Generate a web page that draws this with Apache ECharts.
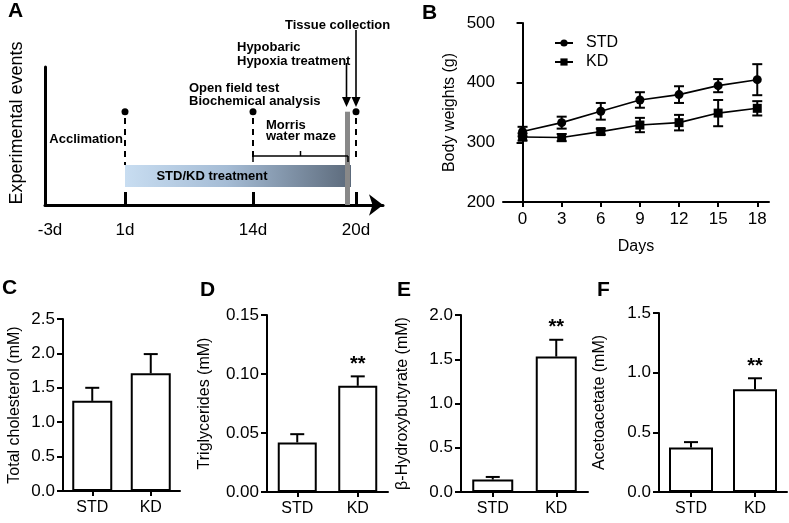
<!DOCTYPE html>
<html><head><meta charset="utf-8">
<script src="https://cdn.jsdelivr.net/npm/echarts@6/dist/echarts.min.js"></script>
<style>html,body{margin:0;padding:0;background:#fff}#c{width:789px;height:523px}</style>
</head><body><div id="c"></div>
<script>
const FONT = 'Arial, "Liberation Sans", Helvetica, sans-serif';

// ---------- Panel A: experimental timeline ----------
const timelineLabels = ['-3d', '1d', '14d', '20d'];
const eventTexts = {
  acclimation: 'Acclimation',
  treatment: 'STD/KD treatment',
  openField: 'Open field test',
  biochem: 'Biochemical analysis',
  morris1: 'Morris',
  morris2: 'water maze',
  hypo1: 'Hypobaric',
  hypo2: 'Hypoxia treatment',
  tissue: 'Tissue collection'
};

// ---------- Panel B: body weights ----------
const days = [0, 3, 6, 9, 12, 15, 18];
const stdWeight = [318, 333, 352, 371, 380, 395, 405];
const stdWeightErr = [8, 10, 14, 13, 14, 11, 26];
const kdWeight = [309, 308, 318, 329, 333, 349, 357];
const kdWeightErr = [6, 6, 5, 12, 13, 22, 12];

// ---------- Panels C-F ----------
const groups = ['STD', 'KD'];
const cholesterol = [1.31, 1.71];
const cholesterolErr = [0.19, 0.28];
const triglycerides = [0.042, 0.090];
const triglyceridesErr = [0.007, 0.008];
const bhb = [0.14, 1.53];
const bhbErr = [0.03, 0.19];
const acetoacetate = [0.373, 0.861];
const acetoacetateErr = [0.045, 0.092];
const sigC = ['', ''];
const sigD = ['', '**'];
const sigE = ['', '**'];
const sigF = ['', '**'];

// ---------- schematic layout for panel A (axis units, 10 px each) ----------
const LA = {
  tickAt: [0.5, 8.0, 20.8, 31.1],
  markAt: [8.0, 20.8, 31.1],
  dashBottom: [4.0, 4.3, 4.5],
  dotY: 9.33, dashTop: 8.7,
  bar: {x0: 8.0, x1: 30.6, y0: 1.8, y1: 4.0},
  hypoxia: {x0: 30.0, x1: 30.5, top: 9.33},
  arrows: [{x: 30.15, from: 14.2, to: 9.8}, {x: 31.1, from: 17.5, to: 9.8}],
  brace: {x0: 20.8, x1: 30.3, y: 4.9, end: 4.3, notch: 5.4},
  texts: [
    ['tissue', 24.0, 18.0, 'left'],
    ['hypo1', 19.2, 15.8, 'left'],
    ['hypo2', 19.2, 14.4, 'left'],
    ['openField', 14.4, 11.7, 'left'],
    ['biochem', 14.4, 10.4, 'left'],
    ['morris1', 22.1, 8.0, 'left'],
    ['morris2', 22.1, 6.9, 'left'],
    ['acclimation', 7.8, 6.6, 'right'],
    ['treatment', 16.7, 2.9, 'center']
  ]
};

function txt(text, p, align, font) {
  return {type: 'text', style: {text: text, x: p[0], y: p[1], textAlign: align, align: align,
    textVerticalAlign: 'middle', verticalAlign: 'middle', font: font, fill: '#000'}};
}
function seg(a, b, w, dash) {
  return {type: 'line', shape: {x1: a[0], y1: a[1], x2: b[0], y2: b[1]},
    style: {stroke: '#000', lineWidth: w, lineDash: dash || null}};
}

function renderTimeline(params, api) {
  const c = (x, y) => api.coord([x, y]);
  const ch = [];
  LA.markAt.forEach((x, i) => {
    ch.push(seg(c(x, LA.dashTop), c(x, LA.dashBottom[i]), 2, [6, 5]));
    const d = c(x, LA.dotY);
    ch.push({type: 'circle', shape: {cx: d[0], cy: d[1], r: 3.5}, style: {fill: '#000'}});
  });
  const p0 = c(LA.bar.x0, LA.bar.y1), p1 = c(LA.bar.x1, LA.bar.y0);
  ch.push({type: 'rect', shape: {x: p0[0], y: p0[1], width: p1[0] - p0[0], height: p1[1] - p0[1]},
    style: {fill: {type: 'linear', x: 0, y: 0, x2: 1, y2: 0, colorStops: [
      {offset: 0, color: '#c8ddf1'}, {offset: 0.45, color: '#a5bcd5'}, {offset: 1, color: '#5c6a7b'}]}}});
  const h0 = c(LA.hypoxia.x0, LA.hypoxia.top), h1 = c(LA.hypoxia.x1, 0);
  ch.push({type: 'rect', shape: {x: h0[0], y: h0[1], width: h1[0] - h0[0], height: h1[1] - h0[1]},
    style: {fill: '#888888'}});
  LA.arrows.forEach(a => {
    const s = c(a.x, a.from), e = c(a.x, a.to);
    ch.push(seg(s, [e[0], e[1] - 8], 1.6));
    ch.push({type: 'polygon', shape: {points: [[e[0] - 4.5, e[1] - 10], [e[0] + 4.5, e[1] - 10], [e[0], e[1]]]},
      style: {fill: '#000'}});
  });
  const b = LA.brace;
  const bl = c(b.x0, b.y), br = c(b.x1, b.y), bm = c((b.x0 + b.x1) / 2, b.y);
  ch.push(seg(bl, br, 1.5));
  ch.push(seg(bl, c(b.x0, b.end), 1.5));
  ch.push(seg(br, c(b.x1, b.end), 1.5));
  ch.push(seg(bm, c((b.x0 + b.x1) / 2, b.notch), 1.5));
  LA.texts.forEach(t => ch.push(txt(eventTexts[t[0]], c(t[1], t[2]), t[3], 'bold 13px ' + FONT)));
  return {type: 'group', children: ch};
}

function renderErrBoth(params, api) {
  const x = api.value(0), y = api.value(1), e = api.value(2);
  const hi = api.coord([x, y + e]), lo = api.coord([x, y - e]);
  const w = 5;
  return {type: 'group', children: [
    seg(hi, lo, 2),
    seg([hi[0] - w, hi[1]], [hi[0] + w, hi[1]], 2),
    seg([lo[0] - w, lo[1]], [lo[0] + w, lo[1]], 2)
  ]};
}

function makeErrUp(sig) {
  return function (params, api) {
    const x = api.value(0), y = api.value(1), e = api.value(2);
    const base = api.coord([x, y]), hi = api.coord([x, y + e]);
    const w = 7;
    const ch = [seg(base, hi, 2), seg([hi[0] - w, hi[1]], [hi[0] + w, hi[1]], 2)];
    const s = sig[params.dataIndex];
    if (s) ch.push({type: 'text', style: {text: s, x: hi[0], y: hi[1] - 12, textAlign: 'center', align: 'center',
      textVerticalAlign: 'middle', verticalAlign: 'middle', font: 'bold 20px ' + FONT, fill: '#000'}});
    return {type: 'group', children: ch};
  };
}

const axisBlack = w => ({show: true, lineStyle: {color: '#000', width: w}});

const grids = [
  {left: 45, top: 67, width: 338, height: 138},
  {left: 503, top: 23, width: 266, height: 179},
  {left: 63, top: 319, width: 117, height: 172},
  {left: 267, top: 315, width: 121, height: 177},
  {left: 461, top: 315, width: 127, height: 177},
  {left: 659, top: 313, width: 128, height: 179}
];

const barPanels = [
  {vals: cholesterol, err: cholesterolErr, sig: sigC, max: 2.5, interval: 0.5, dec: 1, name: 'Total cholesterol (mM)', gap: 40, bw: 40},
  {vals: triglycerides, err: triglyceridesErr, sig: sigD, max: 0.15, interval: 0.05, dec: 2, name: 'Triglycerides (mM)', gap: 54, bw: 39},
  {vals: bhb, err: bhbErr, sig: sigE, max: 2.0, interval: 0.5, dec: 1, name: '\u03b2-Hydroxybutyrate (mM)', gap: 50, bw: 41},
  {vals: acetoacetate, err: acetoacetateErr, sig: sigF, max: 1.5, interval: 0.5, dec: 1, name: 'Acetoacetate (mM)', gap: 51, bw: 44}
];

const xAxes = [
  {gridIndex: 0, type: 'value', min: 0, max: 33.8,
    axisLine: {show: true, lineStyle: {color: '#000', width: 3}, symbol: ['none', 'arrow'], symbolSize: [16, 14]},
    axisTick: {show: true, inside: true, length: 13, customValues: LA.markAt, lineStyle: {color: '#000', width: 3}},
    axisLabel: {customValues: LA.tickAt, formatter: v => timelineLabels[LA.tickAt.indexOf(v)], color: '#000', fontSize: 17, fontFamily: FONT, margin: 17},
    splitLine: {show: false}},
  {gridIndex: 1, type: 'value', min: -1.5, max: 18.9,
    axisLine: axisBlack(2),
    axisTick: {show: true, length: 5, customValues: days, lineStyle: {color: '#000', width: 2}},
    axisLabel: {customValues: days, color: '#000', fontSize: 17, fontFamily: FONT, margin: 9},
    splitLine: {show: false},
    name: 'Days', nameLocation: 'middle', nameGap: 37, nameTextStyle: {color: '#000', fontSize: 16, fontFamily: FONT}}
];
const yAxes = [
  {gridIndex: 0, type: 'value', min: 0, max: 13.8, axisLine: {show: true, lineStyle: {color: '#000', width: 3}},
    axisTick: {show: false}, axisLabel: {show: false}, splitLine: {show: false},
    name: 'Experimental events', nameLocation: 'middle', nameGap: 19,
    nameTextStyle: {color: '#000', fontSize: 18, fontFamily: FONT, padding: [0, 0, 0, 26]}},
  {gridIndex: 1, type: 'value', min: 200, max: 500, interval: 100, axisLine: axisBlack(2),
    axisTick: {show: true, length: 6, lineStyle: {color: '#000', width: 2}},
    axisLabel: {color: '#000', fontSize: 17, fontFamily: FONT, margin: 8}, splitLine: {show: false},
    name: 'Body weights (g)', nameLocation: 'middle', nameGap: 45, nameTextStyle: {color: '#000', fontSize: 16, fontFamily: FONT}}
];

const series = [
  {type: 'custom', xAxisIndex: 0, yAxisIndex: 0, renderItem: renderTimeline, data: [[0, 0]], clip: false, silent: true},
  {type: 'custom', xAxisIndex: 1, yAxisIndex: 1, renderItem: renderErrBoth, z: 1,
    data: days.map((d, i) => [d, stdWeight[i], stdWeightErr[i]])},
  {type: 'custom', xAxisIndex: 1, yAxisIndex: 1, renderItem: renderErrBoth, z: 1,
    data: days.map((d, i) => [d, kdWeight[i], kdWeightErr[i]])},
  {name: 'STD', type: 'line', xAxisIndex: 1, yAxisIndex: 1, symbol: 'circle', symbolSize: 9, z: 3,
    lineStyle: {color: '#000', width: 1.6}, itemStyle: {color: '#000'},
    data: days.map((d, i) => [d, stdWeight[i]])},
  {name: 'KD', type: 'line', xAxisIndex: 1, yAxisIndex: 1, symbol: 'rect', symbolSize: 9, z: 3,
    lineStyle: {color: '#000', width: 1.6}, itemStyle: {color: '#000'},
    data: days.map((d, i) => [d, kdWeight[i]])}
];

barPanels.forEach((p, k) => {
  const gi = k + 2;
  xAxes.push({gridIndex: gi, type: 'category', data: groups,
    axisLine: axisBlack(2),
    axisTick: {show: true, alignWithLabel: true, length: 5, lineStyle: {color: '#000', width: 2}},
    axisLabel: {color: '#000', fontSize: 16, fontFamily: FONT, margin: 9}});
  yAxes.push({gridIndex: gi, type: 'value', min: 0, max: p.max, interval: p.interval,
    axisLine: axisBlack(2),
    axisTick: {show: true, length: 6, lineStyle: {color: '#000', width: 2}},
    axisLabel: {color: '#000', fontSize: 17, fontFamily: FONT, margin: 8, formatter: v => v.toFixed(p.dec)},
    splitLine: {show: false},
    name: p.name, nameLocation: 'middle', nameGap: p.gap, nameTextStyle: {color: '#000', fontSize: 16, fontFamily: FONT}});
  series.push({type: 'bar', xAxisIndex: gi, yAxisIndex: gi, barWidth: p.bw, data: p.vals,
    itemStyle: {color: '#fff', borderColor: '#000', borderWidth: 2}, z: 2});
  series.push({type: 'custom', xAxisIndex: gi, yAxisIndex: gi, renderItem: makeErrUp(p.sig), z: 3, clip: false,
    data: p.vals.map((v, i) => [i, v, p.err[i]])});
});

const letter = (t, left, top) => ({text: t, left: left, top: top, padding: 0,
  textStyle: {fontSize: 21, fontWeight: 'bold', color: '#000', fontFamily: FONT}});

const chart = echarts.init(document.getElementById('c'), null, {renderer: 'canvas'});
chart.setOption({
  animation: false,
  backgroundColor: '#fff',
  title: [letter('A', 8, 1), letter('B', 422, 3), letter('C', 2, 278), letter('D', 200, 280),
          letter('E', 397, 280), letter('F', 597, 280)],
  legend: {data: ['STD', 'KD'], orient: 'vertical', left: 549, top: 30, itemWidth: 18, itemHeight: 9, itemGap: 3,
    textStyle: {color: '#000', fontSize: 16, fontFamily: FONT, padding: [0, 0, 0, 8]}},
  grid: grids,
  xAxis: xAxes,
  yAxis: yAxes,
  series: series
});
</script></body></html>
